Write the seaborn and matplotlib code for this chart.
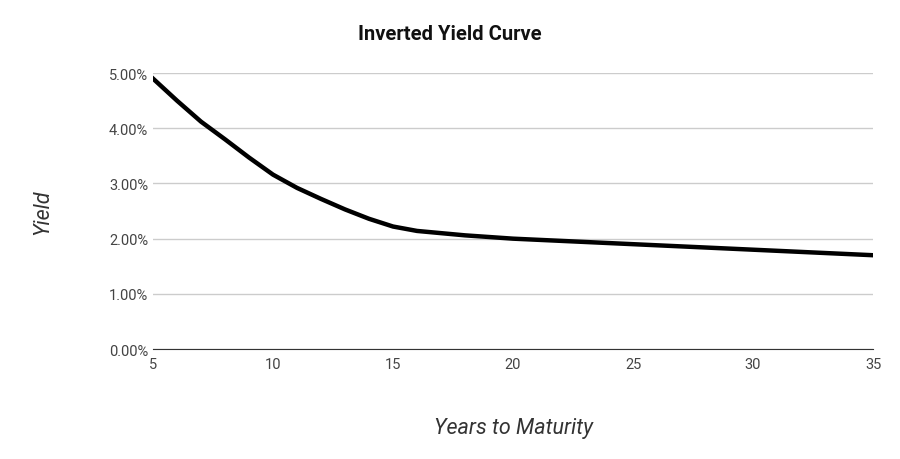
import matplotlib
matplotlib.use("Agg")
import matplotlib.pyplot as plt
import seaborn as sns
import pandas as pd

years = [5, 6, 7, 8, 9, 10, 11, 12, 13, 14, 15, 16, 18, 20, 25, 30, 35]
yields = [4.9, 4.5, 4.12, 3.8, 3.47, 3.16, 2.92, 2.72, 2.53, 2.36, 2.22, 2.14, 2.06, 2.0, 1.9, 1.8, 1.7]
xticks = [5, 10, 15, 20, 25, 30, 35]
yticks = [0, 1, 2, 3, 4, 5]

df = pd.DataFrame({"Years": years, "Yield": yields})
plt.rcParams["font.family"] = "Roboto"

fig = plt.figure(figsize=(9, 4.6), dpi=100)
ax = fig.add_axes([0.17, 0.239, 0.8, 0.6])
sns.lineplot(data=df, x="Years", y="Yield", ax=ax, color="black", linewidth=3.2)
ax.set_xlim(5, 35)
ax.set_ylim(0, 5)
ax.set_xticks(xticks)
ax.set_yticks(yticks)
ax.set_yticklabels([f"{v:.2f}%" for v in yticks])
ax.grid(axis="y", color="#cccccc", linewidth=1)
ax.set_axisbelow(True)
for s in ["top", "right", "left"]:
    ax.spines[s].set_visible(False)
ax.spines["bottom"].set_color("#333333")
ax.tick_params(length=0, labelsize=10.5, colors="#444444")
ax.tick_params(axis="x", pad=6)
ax.set_xlabel("Years to Maturity", fontsize=15.5, style="italic", color="#333333", labelpad=33)
ax.set_ylabel("Yield", fontsize=15.5, style="italic", color="#333333", labelpad=40)
fig.text(0.5, 0.912, "Inverted Yield Curve", ha="center", fontsize=14.5, fontweight="bold", color="#111111")
fig.savefig("out.png")
